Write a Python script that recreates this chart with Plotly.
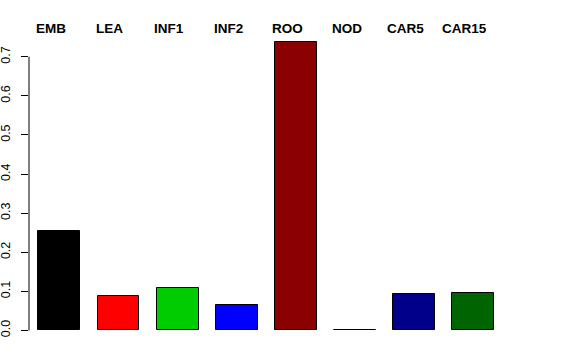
import plotly.graph_objects as go

categories = ["EMB", "LEA", "INF1", "INF2", "ROO", "NOD", "CAR5", "CAR15"]
values = [0.255, 0.088, 0.1085, 0.064, 0.737, 0.001, 0.093, 0.097]
colors = ["#000000", "#FF0000", "#00CD00", "#0000FF", "#8B0000", "#FFFFFF", "#00008B", "#006400"]
ytick_vals = [0.0, 0.1, 0.2, 0.3, 0.4, 0.5, 0.6, 0.7]
ytick_text = ["0.0", "0.1", "0.2", "0.3", "0.4", "0.5", "0.6", "0.7"]

FONT = "Liberation Sans, Arial, Helvetica, sans-serif"

fig = go.Figure()
fig.add_trace(go.Bar(
    x=list(range(len(categories))),
    y=values,
    width=0.708,
    marker=dict(color=colors, line=dict(color="black", width=1)),
    hoverinfo="skip",
))

annotations = []
for i, c in enumerate(categories):
    annotations.append(dict(
        x=i, y=1.007, xref="x", yref="paper",
        text="<b>" + c + "</b>", showarrow=False,
        xanchor="center", yanchor="middle", xshift=-8.5,
        font=dict(family=FONT, size=13.5, color="black"),
    ))

fig.update_layout(
    width=576, height=360,
    margin=dict(l=29, r=73, t=31, b=18, pad=0, autoexpand=False),
    paper_bgcolor="white", plot_bgcolor="white",
    showlegend=False,
    bargap=0,
    annotations=annotations,
    shapes=[dict(type="line", xref="paper", yref="y", x0=0, x1=0, y0=0, y1=0.7,
                 line=dict(color="black", width=1))],
    xaxis=dict(range=[-0.512, 7.5], showticklabels=False, showgrid=False,
               zeroline=False, showline=False, ticks="", automargin=False),
    yaxis=dict(range=[-0.0295, 0.766], tickvals=ytick_vals, ticktext=ytick_text,
               ticks="outside", ticklen=7, tickwidth=1, tickcolor="black",
               tickangle=-90, showgrid=False, zeroline=False, showline=False,
               tickfont=dict(family=FONT, size=12.5, color="black"),
               ticklabelstandoff=6, automargin=False),
)

fig.write_html("out.html")
